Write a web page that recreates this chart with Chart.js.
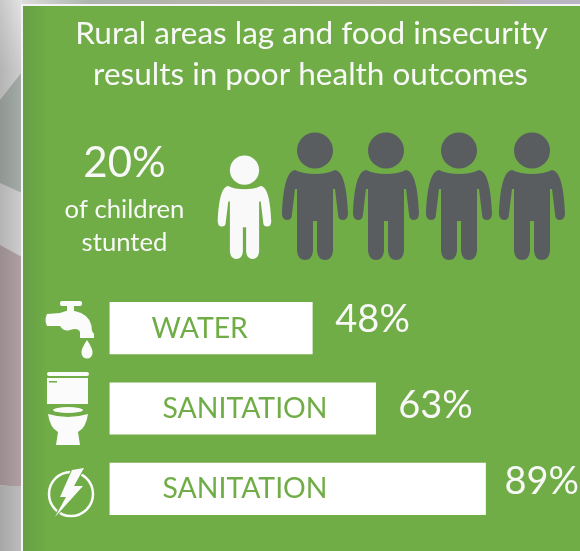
<!DOCTYPE html>
<html>
<head>
<meta charset="utf-8">
<title>Rural areas lag</title>
<script src="https://cdn.jsdelivr.net/npm/chart.js@4"></script>
<style>
  html, body { margin: 0; padding: 0; background: #c4c2c2; }
  #wrap { width: 580px; height: 551px; position: relative; overflow: hidden; }
</style>
</head>
<body>
<div id="wrap"><canvas id="chart" width="580" height="551"></canvas></div>
<script>
const categories = ['WATER', 'SANITATION', 'SANITATION'];
const values = [48, 63, 89];
const titleLines = ['Rural areas lag and food insecurity', 'results in poor health outcomes'];
const stuntedShare = '20%';
const stuntedLines = ['of children', 'stunted'];
const peopleShades = ['#f9f9f9', '#595d60', '#595d60', '#595d60', '#595d60'];

const GREEN = '#70ad47';
const ICON = '#fbfbfb';
const FONT = 'Lato, Carlito, sans-serif';

function text(ctx, str, x, y, size, color, align) {
  ctx.font = size + 'px ' + FONT;
  ctx.fillStyle = color;
  ctx.textAlign = align || 'left';
  ctx.textBaseline = 'alphabetic';
  ctx.fillText(str, x, y);
}

// right half of the figure, mirrored for the left one
function personHalf(ctx) {
  ctx.beginPath();
  ctx.moveTo(-0.5, 41);
  ctx.quadraticCurveTo(12, 41, 20, 37);
  ctx.bezierCurveTo(29, 38, 32, 58, 33, 80);
  ctx.quadraticCurveTo(33, 87, 28, 87);
  ctx.quadraticCurveTo(23, 87, 23, 81);
  ctx.lineTo(20, 56);
  ctx.lineTo(18, 56);
  ctx.lineTo(18, 118);
  ctx.quadraticCurveTo(17, 127, 10, 127);
  ctx.quadraticCurveTo(3, 127, 2, 118);
  ctx.lineTo(2, 88);
  ctx.lineTo(-0.5, 88);
  ctx.closePath();
  ctx.fill();
}

function person(ctx, cx, top, h, color) {
  const s = h / 127;
  ctx.save();
  ctx.translate(cx, top);
  ctx.scale(s, s);
  ctx.fillStyle = color;
  ctx.beginPath();
  ctx.arc(0, 17.5, 18, 0, Math.PI * 2);
  ctx.fill();
  personHalf(ctx);
  ctx.scale(-1, 1);
  personHalf(ctx);
  ctx.restore();
}

function tapIcon(ctx) {
  ctx.fillStyle = ICON;
  ctx.beginPath();
  ctx.roundRect(60, 301, 22, 5, 2);
  ctx.fill();
  ctx.fillRect(67, 304, 7, 8);
  ctx.beginPath();
  ctx.moveTo(47, 314);
  ctx.lineTo(60, 313);
  ctx.quadraticCurveTo(70, 308, 81, 313);
  ctx.quadraticCurveTo(92, 318, 92, 331);
  ctx.lineTo(94, 334);
  ctx.lineTo(94, 338);
  ctx.lineTo(80, 338);
  ctx.lineTo(80, 332);
  ctx.quadraticCurveTo(78, 327, 70, 330);
  ctx.quadraticCurveTo(64, 332, 60, 326);
  ctx.lineTo(47, 326);
  ctx.quadraticCurveTo(44, 320, 47, 314);
  ctx.closePath();
  ctx.fill();
  ctx.beginPath();
  ctx.moveTo(87, 340);
  ctx.quadraticCurveTo(93, 349, 92.5, 353);
  ctx.arc(87, 353, 5.5, 0, Math.PI);
  ctx.quadraticCurveTo(81, 349, 87, 340);
  ctx.fill();
}

function toiletIcon(ctx) {
  ctx.fillStyle = ICON;
  ctx.beginPath();
  ctx.roundRect(47, 372, 42, 4, 2);
  ctx.fill();
  ctx.fillRect(47, 378, 41, 26);
  ctx.fillStyle = GREEN;
  ctx.fillRect(49, 381, 8, 1.5);
  ctx.fillStyle = ICON;
  ctx.beginPath();
  ctx.ellipse(68, 410, 15, 3, 0, 0, Math.PI * 2);
  ctx.fill();
  ctx.beginPath();
  ctx.moveTo(48, 414);
  ctx.quadraticCurveTo(68, 420, 88, 414);
  ctx.quadraticCurveTo(86, 428, 78, 432);
  ctx.lineTo(80, 445);
  ctx.lineTo(56, 445);
  ctx.lineTo(58, 432);
  ctx.quadraticCurveTo(50, 428, 48, 414);
  ctx.fill();
}

function powerIcon(ctx) {
  ctx.strokeStyle = ICON;
  ctx.lineWidth = 2.5;
  ctx.beginPath();
  ctx.arc(71, 494, 22, 0, Math.PI * 2);
  ctx.stroke();
  ctx.beginPath();
  ctx.moveTo(72, 470); ctx.lineTo(84, 468); ctx.lineTo(74, 486); ctx.lineTo(83, 486);
  ctx.lineTo(55, 517); ctx.lineTo(66, 497); ctx.lineTo(60, 497);
  ctx.closePath();
  ctx.strokeStyle = GREEN;
  ctx.lineWidth = 2;
  ctx.stroke();
  ctx.fillStyle = ICON;
  ctx.fill();
}

function poly(ctx, color, pts) {
  ctx.fillStyle = color;
  ctx.beginPath();
  pts.forEach((p, i) => (i ? ctx.lineTo(p[0], p[1]) : ctx.moveTo(p[0], p[1])));
  ctx.closePath();
  ctx.fill();
}

const backdrop = {
  id: 'backdrop',
  beforeDraw(chart) {
    const ctx = chart.ctx;
    ctx.save();
    // slide showing behind the panel
    ctx.fillStyle = '#cdcdcd';
    ctx.fillRect(0, 0, 580, 551);
    poly(ctx, '#a4aca7', [[0, 100], [22, 72], [22, 193], [0, 183]]);
    poly(ctx, '#b0a0a3', [[0, 245], [22, 257], [22, 487], [0, 485]]);
    ctx.fillStyle = '#bdbdbd';
    ctx.fillRect(0, 486, 22, 65);
    const fade = ctx.createLinearGradient(0, 0, 0, 70);
    fade.addColorStop(0, 'rgba(255,255,255,0.45)');
    fade.addColorStop(1, 'rgba(255,255,255,0)');
    ctx.fillStyle = fade;
    ctx.fillRect(0, 0, 22, 70);
    const side = ctx.createLinearGradient(0, 0, 22, 0);
    side.addColorStop(0, 'rgba(0,0,0,0.12)');
    side.addColorStop(1, 'rgba(0,0,0,0)');
    ctx.fillStyle = side;
    ctx.fillRect(0, 0, 22, 551);
    const strip = ctx.createLinearGradient(22, 0, 580, 0);
    strip.addColorStop(0, '#dcdcdc');
    strip.addColorStop(0.12, '#adb5ad');
    strip.addColorStop(0.4, '#b8b4ac');
    strip.addColorStop(0.85, '#bab2a4');
    strip.addColorStop(0.9, '#b9b5c2');
    strip.addColorStop(1, '#b9b5c2');
    ctx.fillStyle = strip;
    ctx.fillRect(22, 0, 558, 4);
    // panel
    ctx.fillStyle = '#f4f4f4';
    ctx.fillRect(21, 4, 559, 547);
    ctx.fillStyle = GREEN;
    ctx.fillRect(23, 6, 557, 545);
    const shade = ctx.createLinearGradient(23, 0, 48, 0);
    shade.addColorStop(0, 'rgba(70,110,60,0.22)');
    shade.addColorStop(1, 'rgba(70,110,60,0)');
    ctx.fillStyle = shade;
    ctx.fillRect(23, 6, 25, 545);
    ctx.restore();
  }
};

const annotations = {
  id: 'annotations',
  afterDraw(chart) {
    const ctx = chart.ctx;
    const xs = chart.scales.x;
    const ys = chart.scales.y;
    ctx.save();
    text(ctx, titleLines[0], 311.5, 44, 31.5, '#f8f8f8', 'center');
    text(ctx, titleLines[1], 310.5, 85, 31.5, '#f8f8f8', 'center');
    text(ctx, stuntedShare, 124.5, 177, 42, '#f8f8f8', 'center');
    text(ctx, stuntedLines[0], 124.5, 218, 25.7, '#f8f8f8', 'center');
    text(ctx, stuntedLines[1], 124.5, 251, 25.7, '#f8f8f8', 'center');

    const centres = [244.5, 315, 386, 459, 532];
    peopleShades.forEach((shade, i) => {
      if (i === 0) person(ctx, centres[i], 156, 103, shade);
      else person(ctx, centres[i], 133, 127, shade);
    });

    tapIcon(ctx);
    toiletIcon(ctx);
    powerIcon(ctx);

    // text inside and beside the bars
    const labelInset = [42, 53, 53];
    const valueGap = [23, 22.5, 19];
    const valueLift = [10, 5, 9];
    categories.forEach((cat, i) => {
      const y = ys.getPixelForValue(i);
      text(ctx, cat, xs.getPixelForValue(0) + labelInset[i], y + 9.5, 28.4, GREEN);
      text(ctx, values[i] + '%', xs.getPixelForValue(values[i]) + valueGap[i], y + 14 - valueLift[i], 38, '#f8f8f8');
    });
    ctx.restore();
  }
};

new Chart(document.getElementById('chart'), {
  type: 'bar',
  data: {
    labels: categories,
    datasets: [{
      data: values,
      backgroundColor: '#ffffff',
      borderWidth: 0,
      barThickness: 51.5
    }]
  },
  options: {
    indexAxis: 'y',
    responsive: false,
    animation: false,
    layout: { padding: { left: 109.5, right: 48, top: 288, bottom: 22 } },
    scales: {
      x: { display: false, min: 0, max: 100 },
      y: { display: false }
    },
    plugins: { legend: { display: false }, tooltip: { enabled: false } }
  },
  plugins: [backdrop, annotations]
});
</script>
</body>
</html>
